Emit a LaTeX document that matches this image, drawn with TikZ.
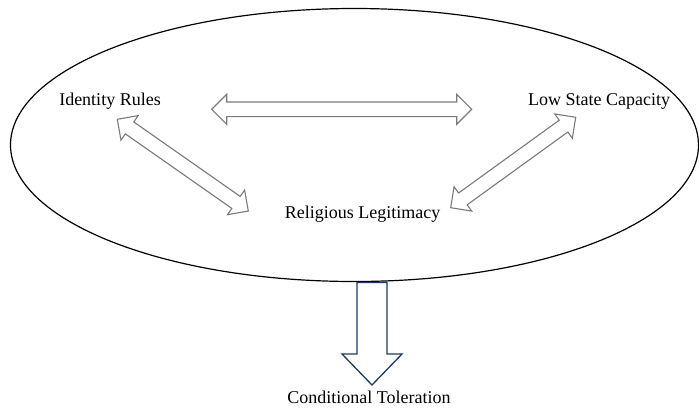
\documentclass[tikz,border=0pt]{standalone}
\usepackage{fontspec}
\setmainfont{Liberation Serif}
\usetikzlibrary{calc}

\definecolor{linkgray}{HTML}{7A7A7A}
\definecolor{navyblue}{HTML}{1F3864}

\tikzset{
  factor/.style={anchor=base, inner sep=0pt, font=\fontsize{18}{20}\selectfont},
  linkarrow/.style={draw=linkgray, line width=1.1pt, line join=miter},
  outarrow/.style={draw=navyblue, line width=1.3pt, fill=white, line join=miter},
}

% hollow two-headed block arrow between two named tips
\newcommand{\dblarrow}[2]{%
  \coordinate (ha) at ($(#1)!15pt!(#2)$);
  \coordinate (hb) at ($(#2)!15pt!(#1)$);
  \draw[linkarrow] (#1) -- ($(ha)!15pt!90:(#2)$) -- ($(ha)!7.3pt!90:(#2)$)
    -- ($(hb)!7.3pt!-90:(#1)$) -- ($(hb)!15pt!-90:(#1)$) -- (#2)
    -- ($(hb)!15pt!90:(#1)$) -- ($(hb)!7.3pt!90:(#1)$)
    -- ($(ha)!7.3pt!-90:(#2)$) -- ($(ha)!15pt!-90:(#2)$) -- cycle;
}

\begin{document}
\begin{tikzpicture}[x=1pt, y=-1pt]
    \useasboundingbox (0,0) rectangle (699,408);
    \draw[line width=1.2pt] (354.5,145) ellipse [x radius=344pt, y radius=136.5pt];

    \node[factor] (ident) at (110,105) {Identity Rules};
    \node[factor] (lowcap) at (599,105) {Low State Capacity};
    \node[factor] (relig) at (362.5,218) {Religious Legitimacy};
    \node[factor] (toler) at (369,403.5) {Conditional Toleration};

    % arrow tips
    \coordinate (topL) at (211.7,109.3);
    \coordinate (topR) at (471.7,109.3);
    \coordinate (identTip) at (117.3,119.3);
    \coordinate (religL) at (248.3,211);
    \coordinate (lowcapTip) at (575.7,117.3);
    \coordinate (religR) at (450.7,207.7);

    \dblarrow{topL}{topR}
    \dblarrow{identTip}{religL}
    \dblarrow{lowcapTip}{religR}

    \coordinate (tolTail) at (372,282.5);
    \coordinate (tolTip) at (372,385);
    \draw[outarrow] ($(tolTail)+(-15,0)$) -- ++(30,0) -- ++(0,71.5) -- ++(15,0)
        -- (tolTip) -- ++(-30,-31) -- ++(15,0) -- cycle;
\end{tikzpicture}
\end{document}
